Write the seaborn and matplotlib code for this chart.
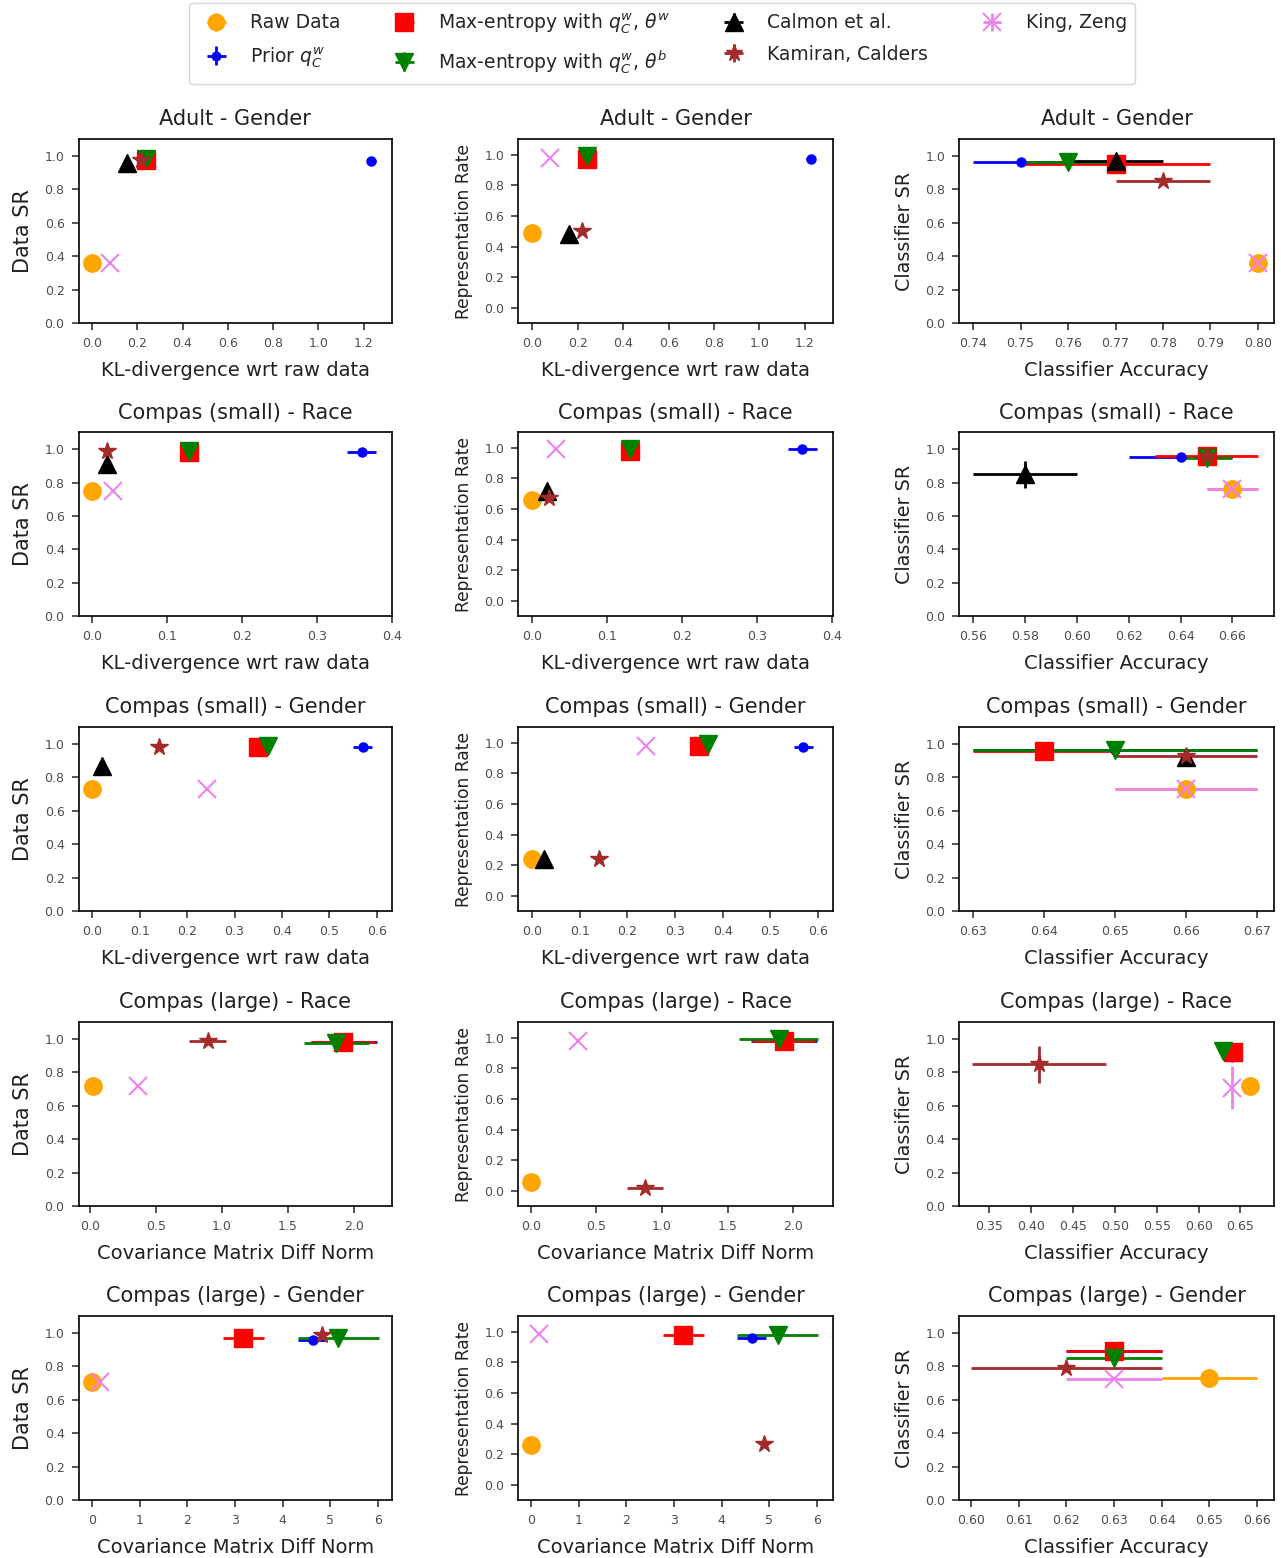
import numpy as np
import matplotlib
matplotlib.use("Agg")
import matplotlib.pyplot as plt
from matplotlib.ticker import MultipleLocator
import seaborn as sns

nan = np.nan

# ---------------- data (15 panels, row-major: 5 rows x 3 columns) ----------------
row_titles = ["Adult - Gender", "Compas (small) - Race", "Compas (small) - Gender",
              "Compas (large) - Race", "Compas (large) - Gender"]
row_xlabels = ["KL-divergence wrt raw data", "KL-divergence wrt raw data",
               "KL-divergence wrt raw data", "Covariance Matrix Diff Norm",
               "Covariance Matrix Diff Norm"]
col_ylabels = ["Data SR", "Representation Rate", "Classifier SR"]

method_labels = ["Raw Data", r"Prior $q_C^w$", r"Max-entropy with $q_C^w$, $\theta^w$",
                 r"Max-entropy with $q_C^w$, $\theta^b$", "Calmon et al.",
                 "Kamiran, Calders", "King, Zeng"]

raw_x = [0.0, 0.0, 0.80, 0.0, 0.0, 0.66, 0.0, 0.0, 0.66, 0.02, 0.0, 0.661, 0.0, 0.0, 0.65]
raw_y = [0.36, 0.49, 0.36, 0.75, 0.66, 0.76, 0.73, 0.24, 0.73, 0.72, 0.06, 0.72, 0.705, 0.26, 0.73]
raw_xerr = [0, 0, 0, 0, 0, 0.01, 0, 0, 0.01, 0, 0, 0, 0, 0, 0.01]
raw_yerr = [0, 0, 0, 0, 0, 0, 0, 0, 0, 0, 0, 0, 0, 0, 0]

prior_x = [1.234, 1.225, 0.75, 0.36, 0.36, 0.64, 0.57, 0.57, 0.65, 1.93, 1.93, 0.64, 4.63, 4.63, 0.63]
prior_y = [0.97, 0.97, 0.965, 0.985, 0.99, 0.953, 0.98, 0.97, 0.965, 0.98, 0.98, 0.90, 0.96, 0.96, 0.895]
prior_xerr = [0.02, 0.02, 0.01, 0.019, 0.019, 0.02, 0.02, 0.02, 0.02, 0.25, 0.25, 0.0, 0.3, 0.3, 0.01]
prior_yerr = [0, 0, 0, 0, 0, 0, 0, 0, 0, 0, 0, 0.04, 0, 0, 0]

maxw_x = [0.24, 0.24, 0.77, 0.13, 0.13, 0.65, 0.35, 0.35, 0.64, 1.92, 1.93, 0.641, 3.17, 3.2, 0.63]
maxw_y = [0.975, 0.97, 0.955, 0.98, 0.98, 0.96, 0.98, 0.98, 0.956, 0.98, 0.98, 0.92, 0.97, 0.98, 0.89]
maxw_xerr = [0, 0, 0.02, 0, 0, 0.02, 0, 0, 0.01, 0.24, 0.24, 0, 0.43, 0.43, 0.01]
maxw_yerr = [0, 0, 0, 0, 0, 0, 0, 0, 0, 0, 0, 0, 0, 0, 0]

maxb_x = [0.24, 0.24, 0.76, 0.13, 0.13, 0.65, 0.37, 0.37, 0.65, 1.87, 1.89, 0.629, 5.16, 5.18, 0.63]
maxb_y = [0.985, 0.99, 0.965, 0.99, 0.99, 0.945, 0.99, 0.99, 0.966, 0.975, 0.99, 0.93, 0.97, 0.98, 0.85]
maxb_xerr = [0, 0, 0.01, 0, 0, 0.01, 0, 0, 0.02, 0.25, 0.3, 0, 0.85, 0.85, 0.01]
maxb_yerr = [0, 0, 0, 0, 0, 0, 0, 0, 0, 0, 0, 0, 0, 0, 0]

calmon_x = [0.155, 0.16, 0.77, 0.02, 0.02, 0.58, 0.02, 0.024, 0.66, nan, nan, nan, nan, nan, nan]
calmon_y = [0.956, 0.48, 0.97, 0.91, 0.72, 0.85, 0.87, 0.24, 0.92, nan, nan, nan, nan, nan, nan]
calmon_xerr = [0, 0, 0.01, 0, 0, 0.02, 0, 0, 0, 0, 0, 0, 0, 0, 0]
calmon_yerr = [0, 0, 0, 0, 0.03, 0.08, 0, 0, 0, 0, 0, 0, 0, 0, 0]

kamiran_x = [0.218, 0.22, 0.78, 0.02, 0.022, 0.65, 0.14, 0.141, 0.66, 0.89, 0.87, 0.41, 4.82, 4.88, 0.62]
kamiran_y = [0.976, 0.50, 0.85, 0.986, 0.67, 0.96, 0.982, 0.24, 0.93, 0.99, 0.02, 0.85, 0.99, 0.27, 0.79]
kamiran_xerr = [0, 0, 0.01, 0, 0, 0, 0, 0, 0.01, 0.14, 0.14, 0.08, 0, 0, 0.02]
kamiran_yerr = [0, 0, 0, 0, 0, 0, 0, 0, 0, 0, 0, 0.11, 0, 0, 0]

king_x = [0.08, 0.076, 0.80, 0.028, 0.031, 0.66, 0.241, 0.24, 0.66, 0.363, 0.36, 0.64, 0.17, 0.17, 0.63]
king_y = [0.36, 0.98, 0.36, 0.75, 0.99, 0.76, 0.73, 0.98, 0.73, 0.72, 0.98, 0.71, 0.705, 0.987, 0.726]
king_xerr = [0, 0, 0, 0, 0, 0.01, 0, 0, 0.01, 0, 0, 0, 0, 0, 0.01]
king_yerr = [0, 0, 0, 0, 0, 0, 0, 0, 0, 0, 0, 0.13, 0, 0, 0]

# x-axis limits and tick steps per panel
x_limits = [(-0.060, 1.326), (-0.063, 1.324), (0.73705, 0.80337),
            (-0.018, 0.4005), (-0.019, 0.4008), (0.5546, 0.676),
            (-0.029, 0.632), (-0.030, 0.632), (0.6281, 0.6724),
            (-0.091, 2.292), (-0.099, 2.305), (0.314, 0.690),
            (-0.28, 6.29), (-0.27, 6.335), (0.5975, 0.6636)]
x_steps = [0.2, 0.2, 0.01, 0.1, 0.1, 0.02, 0.1, 0.1, 0.01, 0.5, 0.5, 0.05, 1, 1, 0.01]

# ---------------- style ----------------
sns.set_style("ticks")
plt.rcParams["font.family"] = ["DejaVu Sans"]
plt.rcParams["axes.edgecolor"] = "black"
plt.rcParams["axes.linewidth"] = 1.2

methods = [
    (raw_x, raw_y, raw_xerr, raw_yerr, "orange", "o", 12.5),
    (prior_x, prior_y, prior_xerr, prior_yerr, "blue", "o", 6.5),
    (maxw_x, maxw_y, maxw_xerr, maxw_yerr, "red", "s", 13),
    (maxb_x, maxb_y, maxb_xerr, maxb_yerr, "green", "v", 13),
    (calmon_x, calmon_y, calmon_xerr, calmon_yerr, "black", "^", 13),
    (kamiran_x, kamiran_y, kamiran_xerr, kamiran_yerr, "brown", "*", 13),
    (king_x, king_y, king_xerr, king_yerr, "violet", "x", 13),
]

W, H = 1281, 1558
fig = plt.figure(figsize=(W / 100, H / 100), dpi=100)
col_left = [78.5, 518, 959]
col_w = [313.5, 315, 315]
row_top = [139.3, 432.4, 727.3, 1022.3, 1316.3]
ax_h = 184.0

ylabel_sizes = [15, 12.3, 13.8]
legend_handles = None

for r in range(5):
    for c in range(3):
        i = r * 3 + c
        ax = fig.add_axes([col_left[c] / W, 1 - (row_top[r] + ax_h) / H,
                           col_w[c] / W, ax_h / H])
        handles = []
        for (mx, my, mxe, mye, col, mk, ms), lab in zip(methods, method_labels):
            if np.isnan(mx[i]):
                h = ax.errorbar([nan], [nan], xerr=[0], yerr=[0], fmt=mk, color=col,
                                ms=ms, elinewidth=2, capsize=0, label=lab)
            else:
                h = ax.errorbar([mx[i]], [my[i]], xerr=[mxe[i]], yerr=[mye[i]], fmt=mk,
                                color=col, ms=ms, mew=1.5 if mk == "x" else 1,
                                elinewidth=2, capsize=0, label=lab)
            handles.append(h)
        if i == 0:
            legend_handles = handles
        ax.set_xlim(*x_limits[i])
        ax.xaxis.set_major_locator(MultipleLocator(x_steps[i]))
        if c == 1:
            ax.set_ylim(-0.1, 1.1)
        else:
            ax.set_ylim(0, 1.1)
        ax.yaxis.set_major_locator(MultipleLocator(0.2))
        ax.tick_params(labelsize=9, labelcolor="0.3", length=5, width=1.1, pad=5)
        ax.set_title(row_titles[r], fontsize=15, color="0.13", pad=10)
        ax.set_xlabel(row_xlabels[r] if c < 2 else "Classifier Accuracy",
                      fontsize=14, color="0.13", labelpad=8)
        ax.set_ylabel(col_ylabels[c], fontsize=ylabel_sizes[c], color="0.13", labelpad=8)

fig.legend(legend_handles, method_labels, loc="upper center",
           bbox_to_anchor=(0.517, 0.9995), borderaxespad=0.1, ncol=4, fontsize=13.5,
           frameon=True, edgecolor="0.8", fancybox=True, columnspacing=2.4,
           markerscale=0.95, labelspacing=0.65, borderpad=0.45)

fig.savefig("out.png", dpi=100)
